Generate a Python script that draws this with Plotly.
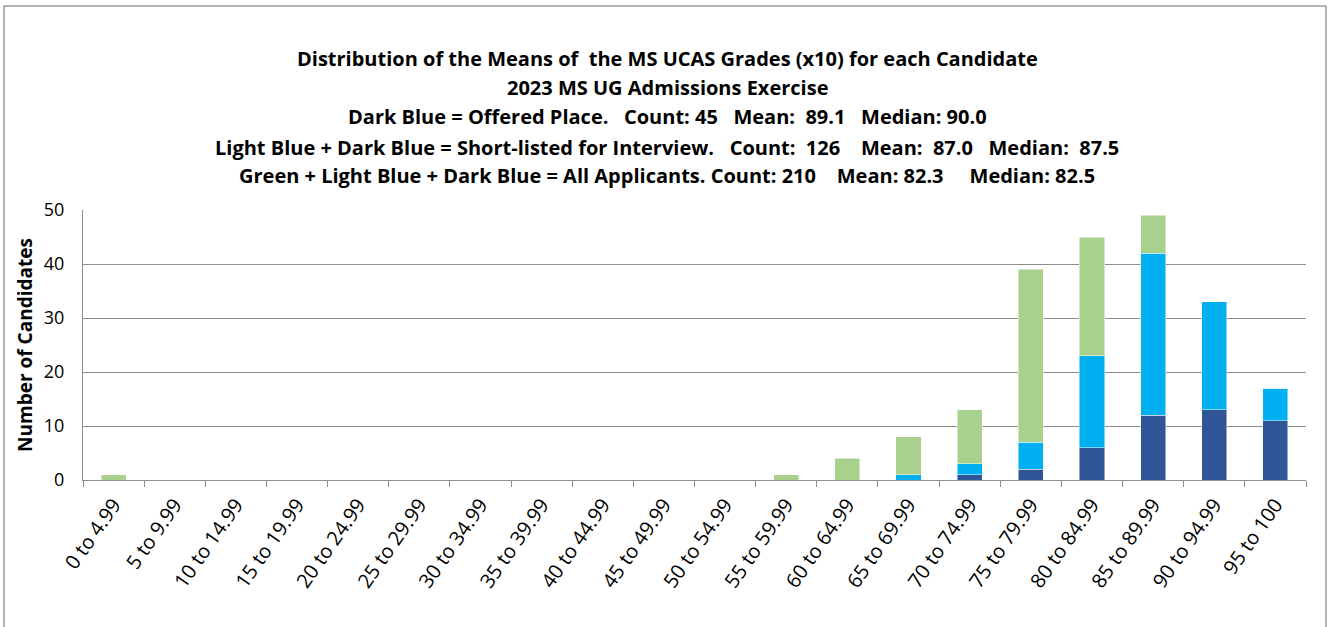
import plotly.graph_objects as go

categories = ["0 to 4.99", "5 to 9.99", "10 to 14.99", "15 to 19.99", "20 to 24.99",
              "25 to 29.99", "30 to 34.99", "35 to 39.99", "40 to 44.99", "45 to 49.99",
              "50 to 54.99", "55 to 59.99", "60 to 64.99", "65 to 69.99", "70 to 74.99",
              "75 to 79.99", "80 to 84.99", "85 to 89.99", "90 to 94.99", "95 to 100"]
offered = [0, 0, 0, 0, 0, 0, 0, 0, 0, 0, 0, 0, 0, 0, 1, 2, 6, 12, 13, 11]
shortlisted_extra = [0, 0, 0, 0, 0, 0, 0, 0, 0, 0, 0, 0, 0, 1, 2, 5, 17, 30, 20, 6]
other_applicants = [1, 0, 0, 0, 0, 0, 0, 0, 0, 0, 0, 1, 4, 7, 10, 32, 22, 7, 0, 0]

title_lines = [
    "Distribution of the Means of  the MS UCAS Grades (x10) for each Candidate",
    "2023 MS UG Admissions Exercise",
    "Dark Blue = Offered Place.   Count: 45   Mean:  89.1   Median: 90.0",
    "Light Blue + Dark Blue = Short-listed for Interview.   Count:  126    Mean:  87.0   Median:  87.5",
    "Green + Light Blue + Dark Blue = All Applicants. Count: 210    Mean: 82.3     Median: 82.5",
]

FONT = "'Open Sans', sans-serif"

fig = go.Figure()
for vals, col, name in [(offered, "#2F5597", "Offered"),
                        (shortlisted_extra, "#00B0F0", "Short-listed"),
                        (other_applicants, "#A9D18E", "Other applicants")]:
    fig.add_trace(go.Bar(x=categories, y=vals, name=name,
                         marker=dict(color=col, line=dict(color="rgba(255,255,255,0.6)", width=0.8))))

L, R, T, B = 83, 29, 210, 147
W, H = 1335, 627
pw, ph = W - L - R, H - T - B

def px_x(p):
    return (p - L) / pw

def px_y(p):
    return (H - B - p) / ph

ys = [59, 88, 117, 147, 176]
anns = []
for line, yy in zip(title_lines, ys):
    anns.append(dict(text="<b>" + line + "</b>", xref="paper", yref="paper",
                     x=px_x(667), y=px_y(yy), xanchor="center", yanchor="middle",
                     showarrow=False, font=dict(family=FONT, size=20, color="black")))

fig.update_layout(
    barmode="stack",
    bargap=0.59,
    width=W, height=H,
    margin=dict(l=L, r=R, t=T, b=B),
    paper_bgcolor="white", plot_bgcolor="white",
    showlegend=False,
    annotations=anns,
    font=dict(family=FONT, color="black"),
    shapes=[dict(type="rect", xref="paper", yref="paper",
                 x0=px_x(4), x1=px_x(1326), y0=px_y(700), y1=px_y(6),
                 line=dict(color="#9a9a9a", width=1.5), fillcolor="rgba(0,0,0,0)", layer="below")],
)
fig.update_xaxes(type="category", tickangle=-55, tickson="boundaries", ticks="outside",
                 ticklen=6, tickcolor="#8c8c8c", showline=True, linecolor="#8c8c8c", linewidth=1.3,
                 showgrid=False, ticklabelstandoff=4,
                 tickfont=dict(family=FONT, size=20, color="black"))
fig.update_yaxes(range=[0, 50], dtick=10, showgrid=True, gridcolor="#8c8c8c", gridwidth=1.3,
                 showline=True, linecolor="#8c8c8c", linewidth=1.3, ticks="", zeroline=False,
                 ticklabelstandoff=14,
                 tickfont=dict(family=FONT, size=18, color="black"),
                 title=dict(text="<b>Number of Candidates</b>", font=dict(family=FONT, size=19, color="black"), standoff=6))

fig.write_html("out.html", config={"displayModeBar": False},
               post_script="document.body.style.margin='0';document.body.style.overflow='hidden';")
